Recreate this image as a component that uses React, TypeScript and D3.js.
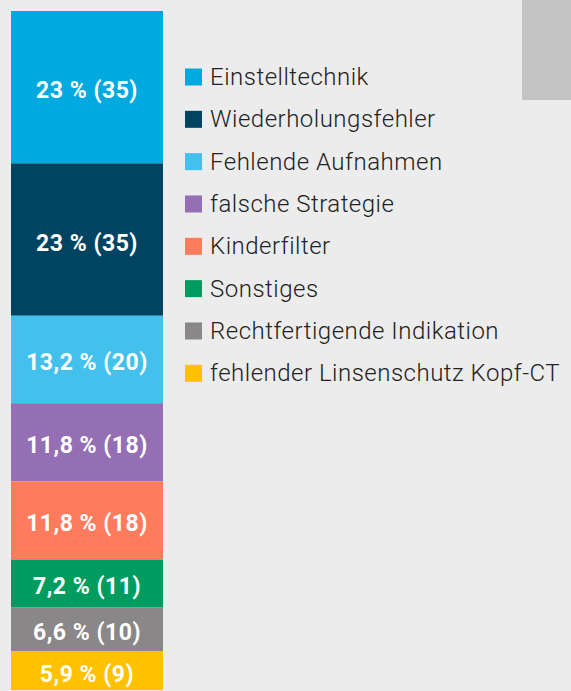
import { useEffect, useRef } from "react";
import * as d3 from "d3";

const categories = [
  "Einstelltechnik",
  "Wiederholungsfehler",
  "Fehlende Aufnahmen",
  "falsche Strategie",
  "Kinderfilter",
  "Sonstiges",
  "Rechtfertigende Indikation",
  "fehlender Linsenschutz Kopf-CT",
];
const percents = [23, 23, 13.2, 11.8, 11.8, 7.2, 6.6, 5.9];
const counts = [35, 35, 20, 18, 18, 11, 10, 9];
const colors = [
  "#00a9e0",
  "#004462",
  "#42c1ec",
  "#946fb4",
  "#ff7b5d",
  "#009b5e",
  "#898787",
  "#ffc100",
];

const App = () => {
  const svgRef = useRef<SVGSVGElement | null>(null);

  useEffect(() => {
    drawChart();
  }, []);

  const drawChart = () => {
    const w = 571;
    const h = 691;
    const svg = d3.select(svgRef.current).attr("width", w).attr("height", h);
    svg.selectAll("*").remove();

    svg.append("rect").attr("width", w).attr("height", h).attr("fill", "#ececec");
    // grey block top right
    svg.append("rect").attr("x", 522).attr("y", 0).attr("width", 49).attr("height", 100).attr("fill", "#c4c4c4");

    const total = d3.sum(percents);
    const yScale = d3.scaleLinear().domain([0, total]).range([11, 11 + total * 6.625]);
    const xScale = d3.scaleBand().domain(["bar"]).range([11, 163]);

    const stacked = percents.map((p, i) => ({
      p,
      c: counts[i],
      color: colors[i],
      start: d3.sum(percents.slice(0, i)),
    }));

    const seg = svg.append("g").selectAll("g").data(stacked).join("g");
    seg
      .append("rect")
      .attr("x", xScale("bar")!)
      .attr("width", xScale.bandwidth())
      .attr("y", (d) => yScale(d.start))
      .attr("height", (d) => yScale(d.start + d.p) - yScale(d.start))
      .attr("fill", (d) => d.color);
    seg
      .append("text")
      .attr("x", xScale("bar")! + xScale.bandwidth() / 2)
      .attr("y", (d) => (yScale(d.start) + yScale(d.start + d.p)) / 2 + 3.5)
      .attr("text-anchor", "middle")
      .attr("dominant-baseline", "central")
      .attr("fill", "#fff")
      .attr("font-family", "Roboto, sans-serif")
      .attr("font-weight", "bold")
      .attr("font-size", 23)
      .attr("letter-spacing", 0.5)
      .text((d) => `${String(d.p).replace(".", ",")} % (${d.c})`);

    // legend
    const ly = d3.scaleLinear().domain([0, categories.length - 1]).range([77, 373.3]);
    const leg = svg.append("g").selectAll("g").data(categories).join("g");
    leg
      .append("rect")
      .attr("x", 185)
      .attr("y", (_, i) => ly(i) - 8.5)
      .attr("width", 17)
      .attr("height", 17)
      .attr("fill", (_, i) => colors[i]);
    leg
      .append("text")
      .attr("x", 210)
      .attr("y", (_, i) => ly(i))
      .attr("dominant-baseline", "central")
      .attr("fill", "#222")
      .attr("font-family", "Roboto, sans-serif")
      .attr("font-weight", 300)
      .attr("font-size", 24)
      .attr("letter-spacing", 0.5)
      .text((d) => d);
  };

  return (
    <svg ref={svgRef} style={{ position: "absolute", left: 0, top: 0 }}></svg>
  );
};

export default App;
